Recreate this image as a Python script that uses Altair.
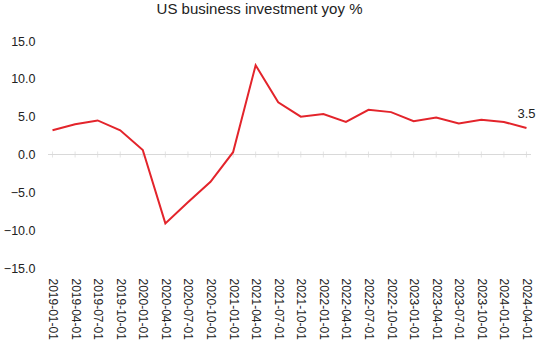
import altair as alt
import pandas as pd

dates = ["2019-01-01", "2019-04-01", "2019-07-01", "2019-10-01",
         "2020-01-01", "2020-04-01", "2020-07-01", "2020-10-01",
         "2021-01-01", "2021-04-01", "2021-07-01", "2021-10-01",
         "2022-01-01", "2022-04-01", "2022-07-01", "2022-10-01",
         "2023-01-01", "2023-04-01", "2023-07-01", "2023-10-01",
         "2024-01-01", "2024-04-01"]
values = [3.2, 4.0, 4.5, 3.2, 0.6, -9.1, -6.3, -3.6, 0.3, 11.8, 6.9, 5.0,
          5.35, 4.3, 5.9, 5.6, 4.4, 4.9, 4.1, 4.6, 4.3, 3.5]
last_label = ["3.5"]
y_ticks = [-15, -10, -5, 0, 5, 10, 15]

df = pd.DataFrame({"date": dates, "value": values})
df_last = pd.DataFrame({"date": [dates[-1]], "value": [values[-1]], "label": last_label})
df_zero = pd.DataFrame({"date": dates, "value": [0] * len(dates)})

FONT = "Liberation Sans"

x = alt.X("date:N", sort=None,
          scale=alt.Scale(type="point", padding=0.2),
          axis=alt.Axis(title=None, labelAngle=90, labelAlign="left",
                        labelBaseline="middle", ticks=False, domain=False,
                        labelPadding=10, labelFontSize=12, labelColor="#222",
                        labelFont=FONT, labelOverlap=False))
y = alt.Y("value:Q",
          scale=alt.Scale(domain=[-15, 15], nice=False, zero=False),
          axis=alt.Axis(title=None, values=y_ticks, format=".1f", grid=False,
                        domain=False, ticks=False, labelPadding=13,
                        labelFontSize=12.5, labelColor="#222", labelFont=FONT,
                        labelOverlap=False))

zero_rule = alt.Chart(df_zero).mark_rule(color="#d9d9d9", strokeWidth=1).encode(
    y=y,
)
zero_ticks = alt.Chart(df_zero).mark_tick(color="#d9d9d9", size=6, thickness=1,
                                          orient="vertical").encode(
    x=x, y=y,
)
line = alt.Chart(df).mark_line(color="#e3242b", strokeWidth=2).encode(x=x, y=y)
label = alt.Chart(df_last).mark_text(dy=-14, align="center", fontSize=13,
                                     color="#222", font=FONT).encode(
    x=x, y=y, text="label:N")

chart = alt.layer(zero_rule, zero_ticks, line, label).properties(
    width=483, height=227,
    title=alt.TitleParams("US business investment yoy %", fontSize=15,
                          fontWeight="normal", font=FONT, color="#222",
                          anchor="middle", dx=-30, offset=18),
    autosize=alt.AutoSizeParams(type="none"),
    padding={"left": 48, "top": 41, "right": 9, "bottom": 84},
).configure_view(stroke=None)

chart.save("out.html", embed_options={"renderer": "svg", "actions": False})
